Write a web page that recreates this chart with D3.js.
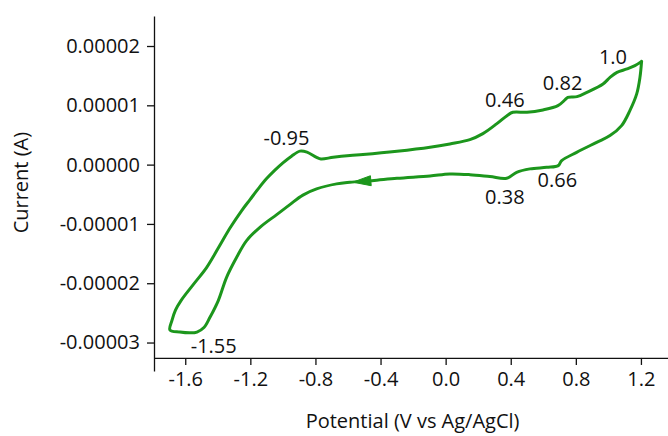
<!DOCTYPE html>
<html>
<head>
<meta charset="utf-8">
<script src="https://cdn.jsdelivr.net/npm/d3@7"></script>
<style>
  html, body { margin: 0; padding: 0; background: #ffffff; }
  svg { display: block; }
  text { font-family: "Open Sans", "Noto Sans", sans-serif; fill: #111111; }
</style>
</head>
<body>
<svg id="chart" width="668" height="436"></svg>
<script>
// Cyclic voltammogram: potential (V vs Ag/AgCl) and current (A).
// The trace starts at the anodic vertex, runs the cathodic sweep leftwards,
// turns at the cathodic vertex and comes back along the anodic sweep.
const potential = [
  1.204, 1.194, 1.174, 1.132, 1.081, 1.010, 0.928, 0.805, 0.713, 0.692,
  0.621, 0.518, 0.436, 0.375, 0.272, 0.149, 0.026, -0.096, -0.299, -0.453,
  -0.588, -0.670, -0.793, -0.877, -0.957, -1.038, -1.141, -1.223, -1.284, -1.346,
  -1.397, -1.448, -1.485, -1.528, -1.571, -1.633, -1.694,
  -1.682, -1.660, -1.626, -1.551, -1.469, -1.397, -1.325, -1.253, -1.202, -1.153,
  -1.100, -1.049, -0.998, -0.947, -0.895, -0.852, -0.793, -0.766, -0.691, -0.588,
  -0.508, -0.299, -0.096, 0.026, 0.149, 0.229, 0.315, 0.377, 0.413, 0.500,
  0.598, 0.690, 0.733, 0.751, 0.807, 0.868, 0.967, 1.010, 1.053, 1.114,
  1.163, 1.204
];
const current = [
  1.741e-5, 1.471e-5, 1.192e-5, 0.910e-5, 0.657e-5, 0.489e-5, 0.376e-5, 0.207e-5, 0.067e-5, -0.017e-5,
  -0.046e-5, -0.072e-5, -0.130e-5, -0.231e-5, -0.202e-5, -0.169e-5, -0.157e-5, -0.190e-5, -0.231e-5, -0.270e-5,
  -0.298e-5, -0.325e-5, -0.410e-5, -0.514e-5, -0.674e-5, -0.843e-5, -1.057e-5, -1.281e-5, -1.562e-5, -1.900e-5,
  -2.292e-5, -2.574e-5, -2.747e-5, -2.823e-5, -2.837e-5, -2.823e-5, -2.789e-5,
  -2.629e-5, -2.452e-5, -2.292e-5, -2.023e-5, -1.736e-5, -1.407e-5, -1.070e-5, -0.775e-5, -0.590e-5, -0.413e-5,
  -0.236e-5, -0.093e-5, 0.034e-5, 0.143e-5, 0.228e-5, 0.211e-5, 0.123e-5, 0.096e-5, 0.123e-5, 0.152e-5,
  0.169e-5, 0.224e-5, 0.292e-5, 0.349e-5, 0.421e-5, 0.522e-5, 0.691e-5, 0.826e-5, 0.882e-5, 0.882e-5,
  0.922e-5, 0.994e-5, 1.091e-5, 1.134e-5, 1.146e-5, 1.219e-5, 1.360e-5, 1.471e-5, 1.556e-5, 1.613e-5,
  1.669e-5, 1.741e-5
];

// Sweep-direction arrow on the cathodic branch (tip and tail, in data units)
const arrowTip = [-0.570, -0.296e-5];
const arrowTail = [-0.453, -0.270e-5];

// Peak annotations
const peakText = ["-0.95", "-1.55", "0.46", "0.82", "1.0", "0.66", "0.38"];
const peakV    = [-0.978, -1.425, 0.364, 0.719, 1.028, 0.686, 0.364];
const peakI    = [0.337e-5, -3.177e-5, 0.969e-5, 1.264e-5, 1.702e-5, -0.379e-5, -0.657e-5];

// Axis ticks
const xTicks = [-1.6, -1.2, -0.8, -0.4, 0.0, 0.4, 0.8, 1.2];
const xTickLabels = ["-1.6", "-1.2", "-0.8", "-0.4", "0.0", "0.4", "0.8", "1.2"];
const xMinorTicks = [-1.4, -1.0, -0.6, -0.2, 0.2, 0.6, 1.0];
const yTicks = [-3e-5, -2e-5, -1e-5, 0, 1e-5, 2e-5];
const yTickLabels = ["-0.00003", "-0.00002", "-0.00001", "0.00000", "0.00001", "0.00002"];
const yMinorTicks = [-2.5e-5, -1.5e-5, -0.5e-5, 0.5e-5, 1.5e-5, 2.5e-5];

const xTitle = "Potential (V vs Ag/AgCl)";
const yTitle = "Current (A)";

// ---- layout ----
const svg = d3.select("#chart");
const plotLeft = 154, plotRight = 668.6, plotTop = 16, plotBottom = 371;
const fontSize = 20;
const lineColor = "#1c961c";

const x = d3.scaleLinear().domain([-1.792, 1.37]).range([plotLeft, plotRight]);
const y = d3.scaleLinear().domain([-3.48e-5, 2.506e-5]).range([plotBottom, plotTop]);
const xAxisLevel = -3.26e-5;   // current level where the potential axis sits

// ---- axes ----
const gx = svg.append("g").attr("transform", `translate(0,${y(xAxisLevel)})`);
gx.call(d3.axisBottom(x).tickValues(xMinorTicks).tickFormat("").tickSize(3.5).tickSizeOuter(0));
gx.call(d3.axisBottom(x).tickValues(xTicks).tickFormat((d, i) => xTickLabels[i])
  .tickSize(7).tickPadding(7).tickSizeOuter(0));

const gy = svg.append("g").attr("transform", `translate(${plotLeft},0)`);
gy.call(d3.axisLeft(y).tickValues(yMinorTicks).tickFormat("").tickSize(4).tickSizeOuter(0));
gy.call(d3.axisLeft(y).tickValues(yTicks).tickFormat((d, i) => yTickLabels[i])
  .tickSize(7).tickPadding(7).tickSizeOuter(0));

svg.selectAll(".domain, .tick line").attr("stroke", "#111").attr("stroke-width", 1.3);
svg.selectAll(".tick text").attr("font-size", fontSize).attr("font-family", null).attr("fill", "#111111");

// ---- axis titles ----
svg.append("text")
  .attr("x", (x(-1.6) + x(1.2)) / 2 - 0.5)
  .attr("y", 428)
  .attr("text-anchor", "middle")
  .attr("font-size", fontSize)
  .text(xTitle);

svg.append("text")
  .attr("transform", `translate(28,${y(0) + 18}) rotate(-90)`)
  .attr("text-anchor", "middle")
  .attr("font-size", fontSize)
  .text(yTitle);

// ---- voltammogram ----
const pts = potential.map((v, i) => [v, current[i]]);
const line = d3.line()
  .x(d => x(d[0]))
  .y(d => y(d[1]))
  .curve(d3.curveCatmullRom.alpha(0.5));

svg.append("path")
  .datum(pts)
  .attr("d", line)
  .attr("fill", "none")
  .attr("stroke", lineColor)
  .attr("stroke-width", 3)
  .attr("stroke-linejoin", "round")
  .attr("stroke-linecap", "round");

// ---- sweep-direction arrowhead ----
{
  const tx = x(arrowTip[0]), ty = y(arrowTip[1]);
  const bx = x(arrowTail[0]), by = y(arrowTail[1]);
  const len = Math.hypot(bx - tx, by - ty);
  const ux = (bx - tx) / len, uy = (by - ty) / len;
  const headLen = 18, halfW = 5;
  const cx = tx + ux * headLen, cy = ty + uy * headLen;
  svg.append("path")
    .attr("d", `M${tx},${ty} L${cx - uy * halfW},${cy + ux * halfW} L${cx + uy * halfW},${cy - ux * halfW} Z`)
    .attr("fill", lineColor)
    .attr("stroke", lineColor)
    .attr("stroke-width", 1)
    .attr("stroke-linejoin", "round");
}

// ---- peak labels ----
svg.append("g").selectAll("text")
  .data(peakText)
  .join("text")
  .attr("x", (d, i) => x(peakV[i]))
  .attr("y", (d, i) => y(peakI[i]))
  .attr("text-anchor", "middle")
  .attr("font-size", fontSize)
  .text(d => d);
</script>
</body>
</html>
